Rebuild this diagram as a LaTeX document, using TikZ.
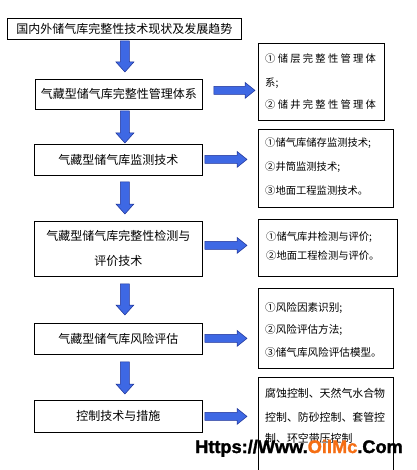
\documentclass[tikz,border=0pt]{standalone}
\usepackage{fontspec}
\setmainfont{Noto Sans CJK SC}
\newfontfamily\wmfont[BoldFeatures={FakeBold=1.6}]{Liberation Sans}
\usetikzlibrary{calc}
\definecolor{arrowblue}{RGB}{62,104,228}
\definecolor{arrowedge}{RGB}{30,50,150}
\definecolor{wmorange}{RGB}{245,110,20}
\tikzset{
  mainbox/.style={draw=black, line width=0.8pt, fill=white, inner sep=0pt, anchor=north west, align=center, font=\fontsize{12}{25}\selectfont},
  sidebox/.style={draw=black, line width=0.8pt, fill=white, inner sep=0pt, anchor=north west},
  sidetext/.style={anchor=west, inner sep=0pt, font=\fontsize{10.3}{10.3}\selectfont},
  blockarrow/.style={fill=arrowblue, draw=arrowedge, line width=0.5pt, line join=miter},
}
\newcommand{\varrowshape}[2]{%
  \filldraw[blockarrow] ($(#1)+(-4.5,0)$) -- ($(#2)+(-4.5,-10)$) -- ($(#2)+(-9,-10)$) -- (#2)
    -- ($(#2)+(9,-10)$) -- ($(#2)+(4.5,-10)$) -- ($(#1)+(4.5,0)$) -- cycle;}
\newcommand{\harrowshape}[2]{%
  \filldraw[blockarrow] ($(#1)+(0,-4)$) -- ($(#2)+(-10,-4)$) -- ($(#2)+(-10,-8)$) -- (#2)
    -- ($(#2)+(-10,8)$) -- ($(#2)+(-10,4)$) -- ($(#1)+(0,4)$) -- cycle;}
\begin{document}
\begin{tikzpicture}[x=1pt,y=-1pt]
\useasboundingbox (0,0) rectangle (416,470);
\fill[white] (0,0) rectangle (416,470);
\begin{scope}
\clip (0,0) rectangle (416,470);
% main column
\node[mainbox, minimum width=234pt, minimum height=21pt] (top) at (7,18) {国内外储气库完整性技术现状及发展趋势};
\node[mainbox, minimum width=167pt, minimum height=30pt] (m1) at (35,79) {气藏型储气库完整性管理体系};
\node[mainbox, minimum width=168pt, minimum height=31pt] (m2) at (34,144) {气藏型储气库监测技术};
\node[mainbox, minimum width=168pt, minimum height=55pt] (m3) at (34,221) {气藏型储气库完整性检测与\\评价技术};
\node[mainbox, minimum width=168pt, minimum height=31pt] (m4) at (34,323) {气藏型储气库风险评估};
\node[mainbox, minimum width=168pt, minimum height=32pt] (m5) at (34,400) {控制技术与措施};
% side boxes
\node[sidebox, minimum width=126pt, minimum height=77pt] (s1) at (258,43) {};
\node[sidebox, minimum width=135pt, minimum height=78pt] (s2) at (258,129) {};
\node[sidebox, minimum width=139pt, minimum height=57pt] (s3) at (258,219) {};
\node[sidebox, minimum width=135pt, minimum height=80pt] (s4) at (258,288) {};
\node[sidebox, minimum width=135pt, minimum height=110pt] (s5) at (258,377) {};
% side texts
\begin{scope}[every node/.append style={sidetext}]
\node[font=\fontsize{10.3}{10.3}\selectfont\addfontfeatures{LetterSpace=22}] (t1a) at ($(s1.north west)+(7,16)$) {①储层完整性管理体};
\node (t1b) at ($(s1.north west)+(7,40)$) {系;};
\node[font=\fontsize{10.3}{10.3}\selectfont\addfontfeatures{LetterSpace=22}] (t1c) at ($(s1.north west)+(7,62)$) {②储井完整性管理体};
\node (t2a) at ($(s2.north west)+(7,14)$) {①储气库储存监测技术;};
\node (t2b) at ($(s2.north west)+(7,38)$) {②井筒监测技术;};
\node (t2c) at ($(s2.north west)+(7,62)$) {③地面工程监测技术。};
\node (t3a) at ($(s3.north west)+(8,18)$) {①储气库井检测与评价;};
\node (t3b) at ($(s3.north west)+(8,37)$) {②地面工程检测与评价。};
\node[font=\fontsize{10.6}{10.6}\selectfont] (t4a) at ($(s4.north west)+(7,20)$) {①风险因素识别;};
\node[font=\fontsize{10.6}{10.6}\selectfont] (t4b) at ($(s4.north west)+(7,42)$) {②风险评估方法;};
\node[font=\fontsize{10.6}{10.6}\selectfont] (t4c) at ($(s4.north west)+(7,64)$) {③储气库风险评估模型。};
\node[font=\fontsize{10.9}{10.9}\selectfont] (t5a) at ($(s5.north west)+(7,16)$) {腐蚀控制、天然气水合物};
\node[font=\fontsize{10.9}{10.9}\selectfont] (t5b) at ($(s5.north west)+(7,40)$) {控制、防砂控制、套管控};
\node[font=\fontsize{10.9}{10.9}\selectfont] (t5c) at ($(s5.north west)+(7,61)$) {制、环空带压控制};
\end{scope}
% vertical arrows
\coordinate (v0s) at ($(top.south -| top.south)+(0.5,1)$);
\coordinate (v0t) at ($(m1.north -| top.south)+(0.5,-7)$);
\coordinate (v1s) at ($(m1.south -| top.south)+(0.5,1)$);
\coordinate (v1t) at ($(m2.north -| top.south)+(0.5,-1)$);
\coordinate (v2s) at ($(m2.south -| top.south)+(0.5,6)$);
\coordinate (v2t) at ($(m3.north -| top.south)+(0.5,-7)$);
\coordinate (v3s) at ($(m3.south -| top.south)+(0.5,7)$);
\coordinate (v3t) at ($(m4.north -| top.south)+(0.5,-8)$);
\coordinate (v4s) at ($(m4.south -| top.south)+(0.5,7)$);
\coordinate (v4t) at ($(m5.north -| top.south)+(0.5,-6)$);
\varrowshape{v0s}{v0t}
\varrowshape{v1s}{v1t}
\varrowshape{v2s}{v2t}
\varrowshape{v3s}{v3t}
\varrowshape{v4s}{v4t}
% horizontal arrows
\coordinate (h1s) at ($(m1.east)+(11,-4)$);
\coordinate (h1t) at ($(s1.west |- m1.east)+(-3,-4)$);
\coordinate (h2s) at ($(m2.east)+(2,-0.5)$);
\coordinate (h2t) at ($(s2.west |- m2.east)+(-11,-0.5)$);
\coordinate (h3s) at ($(m3.east)+(2,-3.5)$);
\coordinate (h3t) at ($(s3.west |- m3.east)+(-11,-3.5)$);
\coordinate (h4s) at ($(m4.east)+(2,-0.5)$);
\coordinate (h4t) at ($(s4.west |- m4.east)+(-11,-0.5)$);
\coordinate (h5s) at ($(m5.east)+(2,0)$);
\coordinate (h5t) at ($(s5.west |- m5.east)+(-11,0)$);
\harrowshape{h1s}{h1t}
\harrowshape{h2s}{h2t}
\harrowshape{h3s}{h3t}
\harrowshape{h4s}{h4t}
\harrowshape{h5s}{h5t}
% watermark
\node[anchor=base west, inner sep=0pt, font=\wmfont\bfseries\fontsize{18.2}{18.2}\selectfont] (wm) at (195,453) {Https://Www.\textcolor{wmorange}{OilMc}.Com};
\end{scope}
\end{tikzpicture}
\end{document}
